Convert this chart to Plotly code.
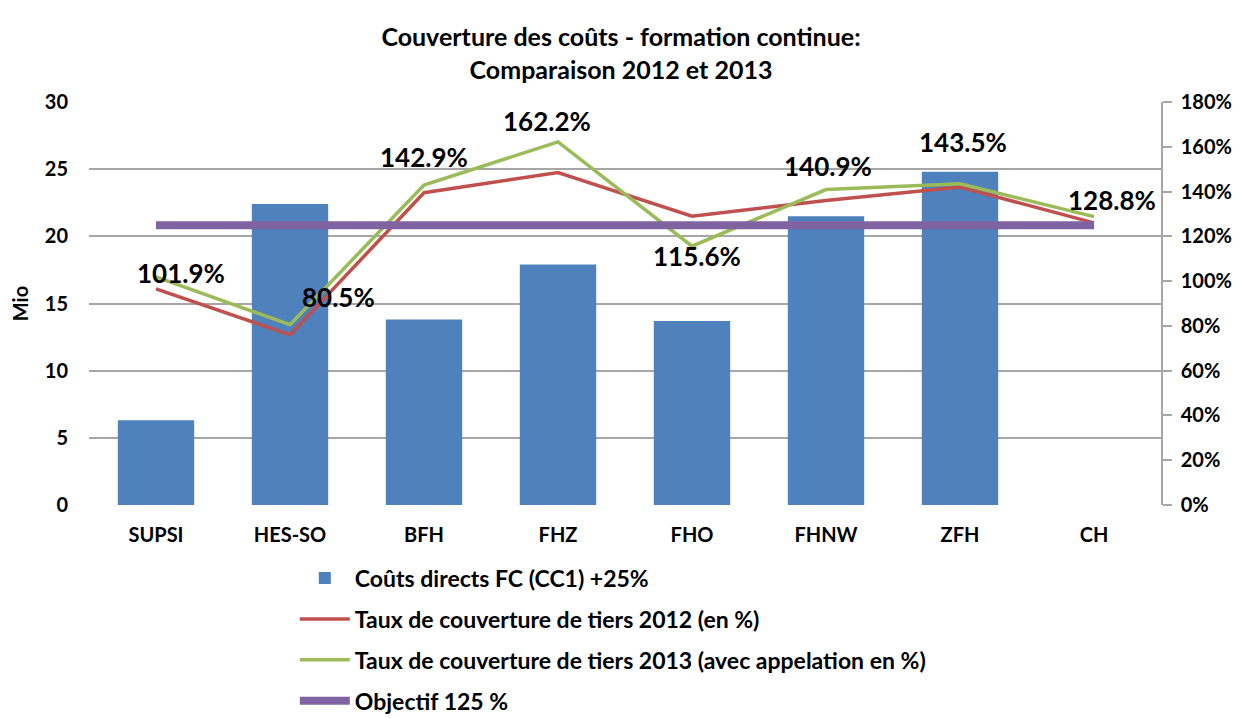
import plotly.graph_objects as go

categories = ["SUPSI", "HES-SO", "BFH", "FHZ", "FHO", "FHNW", "ZFH", "CH"]
couts_directs = [6.3, 22.4, 13.8, 17.9, 13.7, 21.5, 24.8, None]
taux_2012 = [96.5, 76.0, 139.5, 148.5, 129.0, 136.0, 142.0, 126.0]
taux_2013 = [101.9, 80.5, 142.9, 162.2, 115.6, 140.9, 143.5, 128.8]
objectif = [125] * 8

series_names = [
    "Coûts directs FC (CC1) +25%",
    "Taux de couverture de tiers 2012 (en %)",
    "Taux de couverture de tiers 2013 (avec appelation en %)",
    "Objectif 125 %",
]

# label offsets (pixels) for 2013 data labels
label_dx = [25, 48, 0, -11, 5, 2, 3, 18]
label_dy = [4, 28, 28, 21, -10, 24, 42, 17]

FONT = "Lato"
fig = go.Figure()

fig.add_trace(go.Bar(
    x=categories, y=couts_directs, name=series_names[0],
    marker=dict(color="#4F81BD", line=dict(width=0)),
    yaxis="y", legendgroup="a",
))
fig.add_trace(go.Scatter(
    x=categories, y=taux_2012, name=series_names[1], mode="lines",
    line=dict(color="#C0504D", width=3.5), yaxis="y2", legendgroup="b",
))
fig.add_trace(go.Scatter(
    x=categories, y=taux_2013, name=series_names[2], mode="lines",
    line=dict(color="#9BBB59", width=3.5), yaxis="y2", legendgroup="c",
))
fig.add_trace(go.Scatter(
    x=categories, y=objectif, name=series_names[3], mode="lines",
    line=dict(color="#8064A2", width=8), yaxis="y2", legendgroup="d",
))

for c, v, dx, dy in zip(categories, taux_2013, label_dx, label_dy):
    fig.add_annotation(
        x=c, y=v, xref="x", yref="y2", text=f"{v:.1f}%", showarrow=False,
        xshift=dx, yshift=dy,
        font=dict(family=FONT, size=26, color="black", weight="bold"),
    )

fig.update_layout(
    width=1226, height=710,
    paper_bgcolor="white", plot_bgcolor="white",
    margin=dict(l=81, r=73, t=94, b=213, autoexpand=False),
    title=dict(
        text="Couverture des coûts - formation continue:<br>Comparaison 2012 et 2013",
        x=0.5, xanchor="center", y=1 - 38 / 710, yanchor="middle",
        font=dict(family=FONT, size=25, color="black", weight="bold"),
    ),
    font=dict(family=FONT, color="black"),
    bargap=0.43,
    showlegend=True,
    legend=dict(
        x=0.192, xanchor="left", y=-0.128, yanchor="top",
        orientation="v", tracegroupgap=8, itemwidth=50,
        font=dict(family=FONT, size=23, color="black", weight="bold"),
        bgcolor="rgba(0,0,0,0)",
    ),
    xaxis=dict(
        showgrid=False, showline=False, ticks="", zeroline=False,
        tickfont=dict(family=FONT, size=20, color="black", weight="bold"),
        ticklabelstandoff=16,
    ),
    yaxis=dict(
        range=[0, 30], dtick=5, showgrid=True, gridcolor="#A6A6A6", gridwidth=1.5,
        zeroline=False, showline=False, ticks="",
        tickfont=dict(family=FONT, size=20, color="black", weight="bold"),
        ticklabelstandoff=20,
        title=dict(text="Mio", standoff=16,
                   font=dict(family=FONT, size=20, color="black", weight="bold")),
    ),
    yaxis2=dict(
        range=[0, 180], dtick=20, ticksuffix="%", overlaying="y", side="right",
        showgrid=False, zeroline=False, showline=True, linecolor="#A6A6A6", linewidth=1.5,
        ticks="outside", ticklen=9, tickcolor="#A6A6A6", tickwidth=1.5,
        tickfont=dict(family=FONT, size=20, color="black", weight="bold"),
        ticklabelstandoff=5,
    ),
)

fig.write_html("out.html")
